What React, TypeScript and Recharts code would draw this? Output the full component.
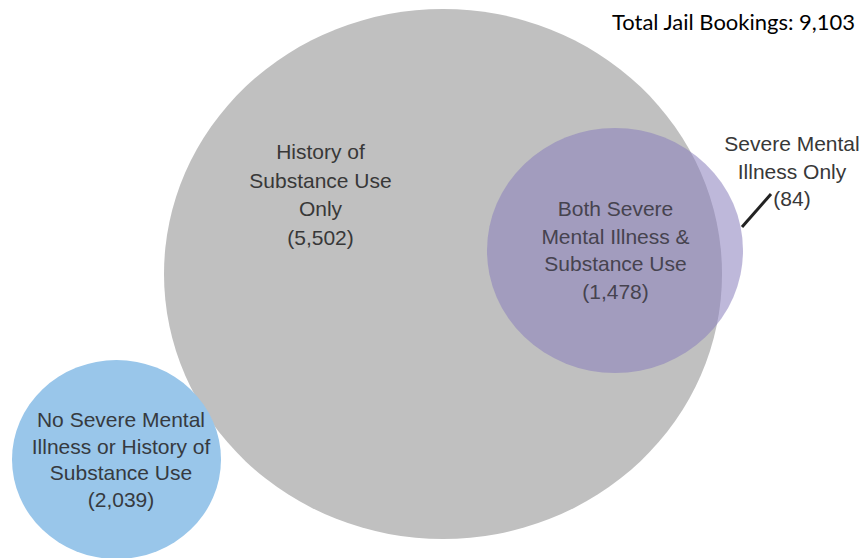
import React from 'react';
import { ScatterChart, Scatter, XAxis, YAxis, ReferenceLine } from 'recharts';

const CHART_W = 867;
const CHART_H = 558;
const X_DOMAIN: [number, number] = [0, 867];
const Y_DOMAIN: [number, number] = [0, 558];

// Circles (Venn sets)
const circleNames = ['History of Substance Use', 'No Severe Mental Illness or Substance Use', 'Severe Mental Illness'];
const circleCx = [443, 116.5, 615];
const circleCy = [274, 459.5, 250.5];
const circleRx = [279, 104.5, 128];
const circleRy = [265, 99.5, 122.5];
const circleFill = ['#c0c0c0', '#99c6ea', 'rgb(137,126,188)'];
const circleOpacity = [1, 1, 0.55];

// Region counts
const regionCounts = [5502, 1478, 2039, 84];
const totalBookings = 9103;

// Region labels
const labelText = [
  ['History of', 'Substance Use', 'Only'],
  ['Both Severe', 'Mental Illness &', 'Substance Use'],
  ['No Severe Mental', 'Illness or History of', 'Substance Use'],
  ['Severe Mental', 'Illness Only'],
];
const labelX = [320.5, 615.5, 121, 792];
const labelY = [159, 216, 427, 151];
const labelGap = [28.5, 27.5, 26.5, 27.5];
const labelColor = ['#383838', '#46434f', '#363a40', '#383838'];

// Leader line for "Severe Mental Illness Only"
const leaderX = [742, 771];
const leaderY = [227, 194];

// Title
const titleX = 855;
const titleY = 30;

const fmt = (n: number) => n.toLocaleString('en-US');

const kx = CHART_W / (X_DOMAIN[1] - X_DOMAIN[0]);
const ky = CHART_H / (Y_DOMAIN[1] - Y_DOMAIN[0]);

const circleData = circleNames.map((name, i) => ({
  name,
  x: circleCx[i],
  y: circleCy[i],
  rx: circleRx[i],
  ry: circleRy[i],
  fill: circleFill[i],
  opacity: circleOpacity[i],
}));

const labelData = labelText.map((lines, i) => ({
  x: labelX[i],
  y: labelY[i],
  lines: [...lines, `(${fmt(regionCounts[i])})`],
  gap: labelGap[i],
  color: labelColor[i],
}));

const titleData = [{ x: titleX, y: titleY, text: `Total Jail Bookings: ${fmt(totalBookings)}` }];

const CircleShape = (props: any) => {
  const { cx, cy, payload } = props;
  if (cx == null || cy == null) return null;
  return (
    <ellipse
      cx={cx}
      cy={cy}
      rx={payload.rx * kx}
      ry={payload.ry * ky}
      fill={payload.fill}
      fillOpacity={payload.opacity}
    />
  );
};

const LabelShape = (props: any) => {
  const { cx, cy, payload } = props;
  if (cx == null || cy == null) return null;
  return (
    <text
      x={cx}
      y={cy}
      textAnchor="middle"
      fill={payload.color}
      fontFamily="Arial, 'Liberation Sans', sans-serif"
      fontSize={21}
    >
      {payload.lines.map((l: string, i: number) => (
        <tspan key={i} x={cx} y={cy + i * payload.gap * ky}>
          {l}
        </tspan>
      ))}
    </text>
  );
};

const TitleShape = (props: any) => {
  const { cx, cy, payload } = props;
  if (cx == null || cy == null) return null;
  return (
    <text
      x={cx}
      y={cy}
      textAnchor="end"
      fill="#000000"
      fontFamily="Lato, 'Noto Sans', sans-serif"
      fontSize={21}
      textLength={243}
      lengthAdjust="spacingAndGlyphs"
    >
      {payload.text}
    </text>
  );
};

export default function App() {
  return (
    <div style={{ position: 'absolute', left: 0, top: 0, background: '#ffffff' }}>
      <ScatterChart width={CHART_W} height={CHART_H} margin={{ top: 0, right: 0, bottom: 0, left: 0 }}>
        <XAxis type="number" dataKey="x" domain={X_DOMAIN} hide allowDataOverflow />
        <YAxis type="number" dataKey="y" domain={Y_DOMAIN} reversed hide allowDataOverflow />
        <Scatter data={circleData} shape={CircleShape} isAnimationActive={false} />
        <ReferenceLine
          segment={[
            { x: leaderX[0], y: leaderY[0] },
            { x: leaderX[1], y: leaderY[1] },
          ]}
          stroke="#222222"
          strokeWidth={3}
          ifOverflow="visible"
        />
        <Scatter data={labelData} shape={LabelShape} isAnimationActive={false} />
        <Scatter data={titleData} shape={TitleShape} isAnimationActive={false} />
      </ScatterChart>
    </div>
  );
}
